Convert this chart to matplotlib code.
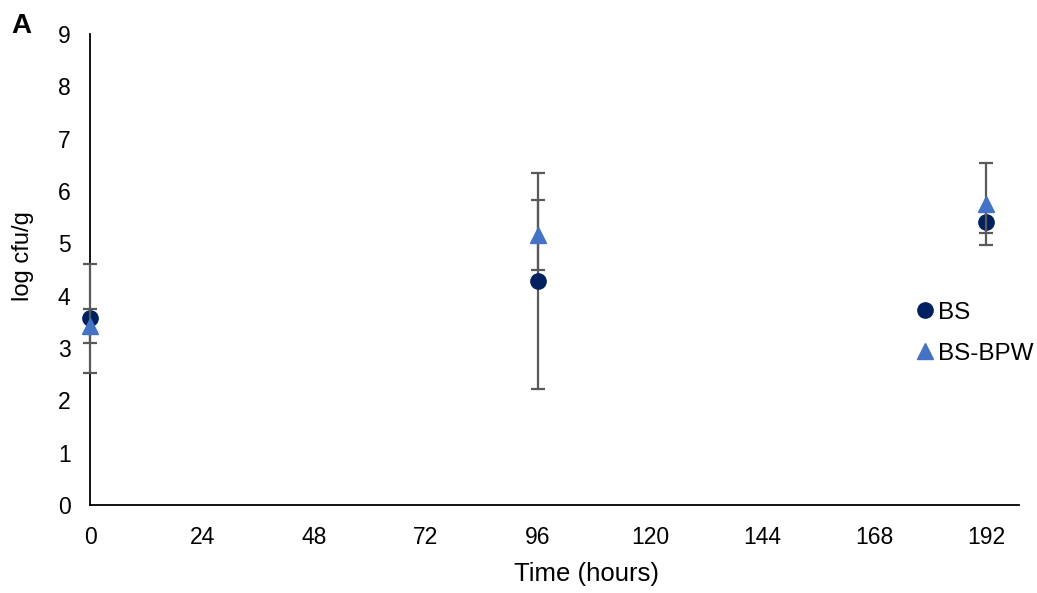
import numpy as np
import matplotlib.pyplot as plt

plt.rcParams['font.family'] = ['Liberation Sans', 'DejaVu Sans']

# ============================================================
# DATA
# ============================================================
hours = [0, 96, 192]
bs_mean = [3.57, 4.28, 5.40]
bs_err = [1.04, 2.06, 0.21]
bpw_mean = [3.42, 5.16, 5.75]
bpw_err = [0.33, 0.67, 0.79]
x_ticks = [0, 24, 48, 72, 96, 120, 144, 168, 192]
y_ticks = [0, 1, 2, 3, 4, 5, 6, 7, 8, 9]

# ============================================================
# FIGURE
# ============================================================
fig = plt.figure(figsize=(10.37, 5.93), dpi=100)
ax = fig.add_axes([0.0868, 0.1484, 0.8955, 0.7943])

err_kw = dict(ecolor='#595959', elinewidth=1.6, capsize=5, capthick=1.6,
              linestyle='none', clip_on=False)
ax.errorbar(hours, bs_mean, yerr=bs_err, fmt='o', color='#002060',
            markersize=11, label='BS', zorder=3, **err_kw)
ax.errorbar(hours, bpw_mean, yerr=bpw_err, fmt='^', color='#4472C4',
            markersize=11, label='BS-BPW', zorder=4, **err_kw)

ax.set_xlim(0, 199)
ax.set_ylim(0, 9)
ax.set_xticks(x_ticks)
ax.set_yticks(y_ticks)
ax.tick_params(axis='x', length=0, labelsize=16.5, pad=15)
ax.tick_params(axis='y', length=0, labelsize=16.5, pad=14)
ax.spines['top'].set_visible(False)
ax.spines['right'].set_visible(False)
ax.spines['left'].set_color('black')
ax.spines['bottom'].set_color('black')
ax.spines['left'].set_linewidth(1.3)
ax.spines['bottom'].set_linewidth(1.3)

ax.set_xlabel('Time (hours)', fontsize=18.5)
ax.set_ylabel('log cfu/g', fontsize=17)
ax.xaxis.set_label_coords(0.535, -0.122)
ax.yaxis.set_label_coords(-0.06, 0.529)

handles = [
    plt.Line2D([], [], marker='o', color='#002060', linestyle='none', markersize=11),
    plt.Line2D([], [], marker='^', color='#4472C4', linestyle='none', markersize=11),
]
ax.legend(handles, ['BS', 'BS-BPW'], loc='center left', bbox_to_anchor=(0.863, 0.365),
          frameon=False, fontsize=17.5, handletextpad=0.0, handlelength=1.0,
          labelspacing=0.78)

fig.text(0.011, 0.944, 'A', fontsize=20, fontweight='bold')

plt.savefig('out.png', dpi=100)
